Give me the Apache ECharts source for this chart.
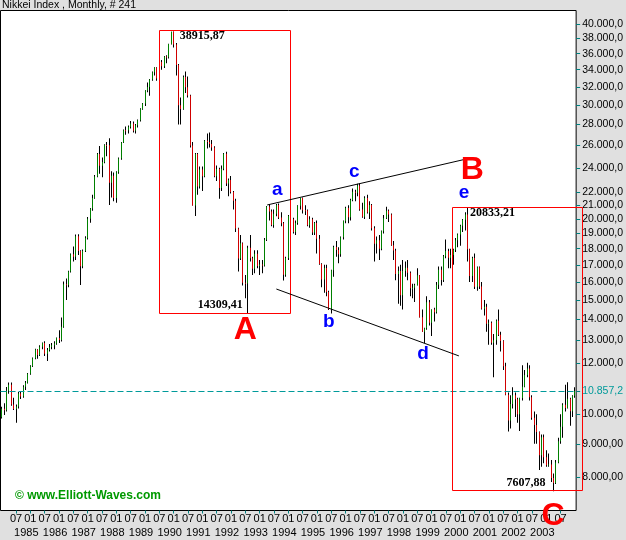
<!DOCTYPE html>
<html><head><meta charset="utf-8">
<script src="https://cdn.jsdelivr.net/npm/echarts@6/dist/echarts.min.js"></script>
<style>html,body{margin:0;padding:0;background:#e0e0e0}#c{width:626px;height:540px}</style>
</head><body><div id="c"></div>
<script>
// ---- data (monthly, Jan 1984 .. Jan 2004) ----
const startYear = 1984;
const opens = [
 9893,10196,10140,10870,11100,10350,10190,10280,10760,10650,11020,11180,
 11542,11860,12200,12580,12340,12710,12880,12400,12560,12700,12780,12850,
 13113,13020,13640,15860,15830,16600,17650,17500,18820,17850,16910,17850,
 18701,20024,20766,21566,23275,25200,24176,24488,26029,26011,22765,23330,
 21564,23622,24800,26260,27434,27417,27769,28101,27366,27924,28418,29579,
 30159,31581,31985,32838,33713,34267,32949,34954,34431,35637,35549,37269,
 38916,37189,34591,29980,29584,33131,31940,31036,25978,20984,25194,22455,
 23849,23293,26409,26292,26111,25790,23291,23900,22336,23916,25222,22687,
 22984,22023,21339,19346,17391,18348,15952,15910,18061,17399,16767,17684,
 16925,17023,16953,18591,20919,20552,19590,20380,21027,20106,19703,16408,
 17417,20229,19997,19112,19725,20974,21552,20642,20629,19564,19990,19076,
 19723,18649,17053,16140,16807,15437,14517,16678,18117,17913,17655,18744,
 19868,20813,20125,21407,22041,21956,22531,20693,20167,21556,20467,21020,
 19361,18330,18557,18003,19151,20068,20605,20331,18229,17888,16459,16636,
 15259,16628,16832,16527,15641,15671,15830,16379,14108,13406,13565,14883,
 13842,14499,14368,15837,16702,16112,17530,17862,17437,17605,17942,18558,
 18934,19540,19960,20337,17974,16332,17411,15727,16861,15747,14539,14649,
 13786,13844,12884,12999,13934,13262,12969,11861,10714,9775,10367,10697,
 10543,9998,10588,11025,11493,11764,10622,9877,9619,9383,8640,9216,
 8579,8340,8363,7973,7831,8425,9083,9563,10344,10219,10560,10101,
 10677];
const highs = [
 10270,10400,11010,11190,11190,10600,10350,10820,10840,11080,11250,11580,
 11900,12230,12620,12600,12770,12900,12960,12650,12830,12880,12960,13130,
 13480,14100,16020,16200,16650,17700,18150,18940,18950,17900,17950,18820,
 20150,20800,21800,23400,25300,25930,24900,26100,26300,26646,23700,23600,
 23700,24900,26300,27500,27800,27900,28350,28300,28050,28500,29650,30200,
 31600,32500,32900,33800,34300,34300,35000,35200,35700,35800,37300,38916,
 38950,37400,34700,30800,33300,33800,33200,31100,26300,25300,25300,24100,
 24100,26500,27100,27200,26500,25900,24200,24000,24200,25300,25400,23100,
 23300,22100,21500,19400,18900,18400,16400,18200,18900,17500,17900,17900,
 17300,17300,18700,20950,21100,20700,20700,21100,21148,20500,19800,17500,
 20300,20600,20100,19900,21000,21573,21600,21000,20700,20200,20100,19800,
 19900,18900,17100,17000,17000,15500,16700,18200,18500,18100,18800,19900,
 20900,21000,21500,22300,22200,22666,22700,21200,21700,21800,21300,21100,
 19500,18800,18900,19200,20300,20900,20700,20400,18500,18000,16900,17000,
 17300,17200,17300,16600,15900,15900,16800,16400,14500,13600,15200,15000,
 14500,14600,16000,16900,16900,17600,18600,18000,18000,18000,18700,19000,
 19600,20000,20500,20833,18000,17500,17700,16900,16900,16000,15000,14800,
 14000,13900,13300,14000,14500,13400,13000,12000,10800,10700,11000,10800,
 10600,10600,11900,11700,12000,11900,10700,10100,10000,9400,9300,9300,
 8800,8700,8500,8100,8500,9200,10000,10400,11100,11200,10600,10700,
 11000];
const lows = [
 9850,9970,10100,10750,10300,10150,9703,10200,10550,10600,10900,11150,
 11500,11820,12150,12180,12300,12600,12300,12080,12500,12600,12600,12800,
 12880,12950,13600,15000,15700,16550,17200,17300,17600,15820,16800,17800,
 18600,19750,20600,21500,23200,23500,23200,24400,25000,21036,21600,21300,
 21200,23500,24700,26200,27000,27100,27600,27200,27100,27700,28300,29500,
 29900,31400,31000,32700,33300,32700,32800,34000,34200,34800,35400,37200,
 36800,33300,28000,28000,29500,31300,30800,25800,20984,20222,21800,22300,
 22100,23200,25700,25800,25500,23200,22900,21500,22100,23800,22500,21700,
 21900,20700,19100,16600,17300,15800,15100,14309,17200,16400,16500,16800,
 16400,16500,16900,18500,19900,19500,19400,20200,20000,19500,16078,16300,
 17300,19300,19000,18900,19600,20700,20400,20300,19500,19400,18900,18900,
 17700,17000,15700,15400,15200,14485,14300,16300,17500,17100,17500,18600,
 19700,19700,19900,21300,21300,21700,20600,20100,20000,20400,20000,19200,
 17200,17700,17300,17900,19000,20000,19800,18200,17300,16100,14800,14700,
 14500,16300,16100,15200,15100,14900,15800,14100,13400,12880,13500,13700,
 13200,13900,14300,15600,15800,16000,17400,16800,16800,17000,17800,18100,
 18200,19100,19200,17200,16000,16000,15600,15500,15600,14500,14200,13400,
 12800,12800,11400,12800,13200,12500,11700,10700,9400,9500,10200,9900,
 9700,9420,10500,11000,11400,10500,9800,9000,9000,8200,8300,8400,
 8300,8300,7860,7608,7800,8400,9000,9200,10100,10200,9600,9900,
 10600];
const closes = [
 10196,10140,10870,11100,10350,10190,10280,10760,10650,11020,11180,11542,
 11860,12200,12580,12340,12710,12880,12400,12560,12700,12780,12850,13113,
 13020,13640,15860,15830,16600,17650,17500,18820,17850,16910,17850,18701,
 20024,20766,21566,23275,25200,24176,24488,26029,26011,22765,23330,21564,
 23622,24800,26260,27434,27417,27769,28101,27366,27924,28418,29579,30159,
 31581,31985,32838,33713,34267,32949,34954,34431,35637,35549,37269,38916,
 37189,34591,29980,29584,33131,31940,31036,25978,20984,25194,22455,23849,
 23293,26409,26292,26111,25790,23291,23900,22336,23916,25222,22687,22984,
 22023,21339,19346,17391,18348,15952,15910,18061,17399,16767,17684,16925,
 17023,16953,18591,20919,20552,19590,20380,21027,20106,19703,16408,17417,
 20229,19997,19112,19725,20974,21552,20642,20629,19564,19990,19076,19723,
 18649,17053,16140,16807,15437,14517,16678,18117,17913,17655,18744,19868,
 20813,20125,21407,22041,21956,22531,20693,20167,21556,20467,21020,19361,
 18330,18557,18003,19151,20068,20605,20331,18229,17888,16459,16636,15259,
 16628,16832,16527,15641,15671,15830,16379,14108,13406,13565,14883,13842,
 14499,14368,15837,16702,16112,17530,17862,17437,17605,17942,18558,18934,
 19540,19960,20337,17974,16332,17411,15727,16861,15747,14539,14649,13786,
 13844,12884,12999,13934,13262,12969,11861,10714,9775,10367,10697,10543,
 9998,10588,11025,11493,11764,10622,9877,9619,9383,8640,9216,8579,
 8340,8363,7973,7831,8425,9083,9563,10344,10219,10560,10101,10677,
 10857];
const lastValue = 10857.2;
const yTicks = [8000,9000,10000,lastValue,12000,13000,14000,15000,16000,17000,18000,19000,20000,21000,22000,24000,26000,28000,30000,32000,34000,36000,38000,40000];

// month categories
const months = [];
for (let k = 0; k < closes.length; k++) {
  const y = startYear + Math.floor(k / 12), m = (k % 12) + 1;
  months.push(y + '-' + (m < 10 ? '0' + m : '' + m));
}

// annotations (anchored to month index / price, with small pixel nudges)
const annotations = [
  {kind:'hline', i1:0, p1:lastValue, i2:240},
  {kind:'rect', i1:66, p1:38916, i2:121, p2:14309, dx1:-0.5, dy1:-2, dx2:-1, dy2:0},
  {kind:'rect', i1:188, p1:20833, i2:240, p2:7608, dx1:1, dy1:-1, dx2:7, dy2:-1},
  {kind:'line', i1:112, p1:21030, i2:196, p2:24850, dx1:-2, dx2:1},
  {kind:'line', i1:115, p1:15600, i2:191, p2:12300, dx1:0, dx2:1},
  {kind:'text', i:71, p:38916, dx:8.5, dy:4, text:'38915,87', style:'num', align:'left'},
  {kind:'text', i:103, p:14309, dx:-5, dy:-8, text:'14309,41', style:'num', align:'right'},
  {kind:'text', i:195, p:20833, dx:2.5, dy:5, text:'20833,21', style:'num', align:'left'},
  {kind:'text', i:231, p:7608, dx:-8, dy:-8, text:'7607,88', style:'num', align:'right'},
  {kind:'text', i:115, p:22200, dx:1, dy:0, text:'a', style:'wave'},
  {kind:'text', i:137, p:13900, dx:0, dy:0, text:'b', style:'wave'},
  {kind:'text', i:148, p:23640, dx:-1, dy:0, text:'c', style:'wave'},
  {kind:'text', i:176, p:12380, dx:1, dy:0, text:'d', style:'wave'},
  {kind:'text', i:194, p:21940, dx:-1, dy:0, text:'e', style:'wave'},
  {kind:'text', i:102, p:13490, dx:0, dy:0, text:'A', style:'big'},
  {kind:'text', i:197, p:23810, dx:0, dy:0, text:'B', style:'big'},
  {kind:'text', i:230, p:7065, dx:2, dy:4, text:'C', style:'big'}
];

const UP = '#008000', DOWN = '#d00000', TEAL = '#009a9a';
const textStyles = {
  num: {font:'bold 12px "Liberation Serif"', fill:'#000'},
  wave: {font:'bold 19px "Liberation Sans"', fill:'#0000ff'},
  big: {font:'bold 32px "Liberation Sans"', fill:'#ff0000'}
};

function fmtNum(v) {
  const dec = v >= 10000 ? 1 : 2;
  const s = Number(v).toFixed(dec).split('.');
  return s[0].replace(/\B(?=(\d{3})+(?!\d))/g, '.') + ',' + s[1];
}

const barRows = months.map((m, k) => [k, opens[k], highs[k], lows[k], closes[k]]);

function renderBar(params, api) {
  const i = api.value(0);
  const o = api.value(1), h = api.value(2), l = api.value(3), c = api.value(4);
  const pH = api.coord([i, h]), pL = api.coord([i, l]);
  const pO = api.coord([i, o]), pC = api.coord([i, c]);
  const x = Math.floor(pH[0]);
  const top = Math.min(pO[1], pC[1]), bot = Math.max(pO[1], pC[1]);
  const col = c > o ? UP : (c < o ? DOWN : '#000');
  return {type:'group', children:[
    {type:'rect', shape:{x:x, y:pH[1], width:1, height:Math.max(1, pL[1]-pH[1])}, style:{fill:'#000'}},
    {type:'rect', shape:{x:x, y:top, width:1, height:Math.max(1, bot-top)}, style:{fill:col}}
  ]};
}

function renderAnnot(params, api) {
  const a = annotations[params.dataIndex];
  if (a.kind === 'hline') {
    const p1 = api.coord([a.i1, a.p1]), p2 = api.coord([a.i2, a.p1]);
    const half = api.size([1, 0])[0] / 2;
    const y = Math.round(p1[1]) + 0.5;
    return {type:'line', shape:{x1:p1[0]-half, y1:y, x2:p2[0]+half, y2:y},
      style:{stroke:TEAL, lineWidth:1, lineDash:[6,3]}};
  }
  if (a.kind === 'rect') {
    const p1 = api.coord([a.i1, a.p1]), p2 = api.coord([a.i2, a.p2]);
    const x1 = Math.round(p1[0] + a.dx1) + 0.5, y1 = Math.round(p1[1] + a.dy1) + 0.5;
    const x2 = Math.round(p2[0] + a.dx2) + 0.5, y2 = Math.round(p2[1] + a.dy2) + 0.5;
    return {type:'rect', shape:{x:x1, y:y1, width:x2-x1, height:y2-y1},
      style:{fill:null, stroke:'#ff0000', lineWidth:1}};
  }
  if (a.kind === 'line') {
    const p1 = api.coord([a.i1, a.p1]), p2 = api.coord([a.i2, a.p2]);
    return {type:'line', shape:{x1:p1[0]+a.dx1, y1:p1[1], x2:p2[0]+a.dx2, y2:p2[1]},
      style:{stroke:'#000', lineWidth:1}};
  }
  const p = api.coord([a.i, a.p]);
  const st = textStyles[a.style];
  return {type:'text', x:p[0]+a.dx, y:p[1]+a.dy,
    style:{text:a.text, font:st.font, fill:st.fill, align:a.align || 'center', verticalAlign:'middle',
      textAlign:a.align || 'center', textVerticalAlign:'middle'}};
}

const monthInterval = (index) => index % 6 === 0 && index > 0 && index < 240;
const yearInterval = (index) => index % 12 === 0 && index > 0 && index < 240;

const chart = echarts.init(document.getElementById('c'), null, {renderer:'canvas'});
chart.setOption({
  animation: false,
  backgroundColor: '#e0e0e0',
  grid: {left:0.5, right:48.5, top:10.5, bottom:29.5, show:true, backgroundColor:'#fff', borderColor:'#000', borderWidth:1, containLabel:false},
  xAxis: [{
    type:'category', data: months, boundaryGap:true,
    axisLine:{show:false},
    axisTick:{show:true, interval:monthInterval, alignWithLabel:true, length:3, lineStyle:{color:'#008080'}},
    axisLabel:{
      interval:monthInterval, margin:3, color:'#000', fontFamily:'Liberation Sans', fontSize:11,
      formatter: (v) => v.slice(5)
    },
    splitLine:{show:false}
  }, {
    type:'category', data: months, boundaryGap:true, position:'bottom',
    axisLine:{show:false}, axisTick:{show:false},
    axisLabel:{
      interval:yearInterval, margin:17, color:'#000', fontFamily:'Liberation Sans', fontSize:11,
      formatter: (v) => '{y|' + v.slice(0,4) + '}',
      rich:{y:{fontFamily:'Liberation Sans', fontSize:11, color:'#000', padding:[0,8,0,0]}}
    },
    splitLine:{show:false}
  }],
  yAxis: {
    type:'log', logBase:10, position:'right', min:7102, max:41966,
    axisLine:{show:false},
    axisTick:{show:true, length:4, lineStyle:{color:'#008080'}, customValues: yTicks},
    axisLabel:{
      customValues: yTicks, margin:6, color:'#000', fontFamily:'Liberation Sans', fontSize:10.5,
      formatter: (v) => Math.abs(v - lastValue) < 1 ? '{hl|' + fmtNum(lastValue) + '}' : fmtNum(v),
      rich:{hl:{color:TEAL, fontFamily:'Liberation Sans', fontSize:10.5}}
    },
    splitLine:{show:false}
  },
  graphic: [
    {type:'text', left:2, top:0, z:100, style:{text:'Nikkei Index , Monthly, # 241', font:'10.5px "Liberation Sans"', fill:'#000'}},
    {type:'text', left:15, top:490, z:100, style:{text:'\u00a9 www.Elliott-Waves.com', font:'bold 12px "Liberation Sans"', fill:'#009900'}}
  ],
  series: [
    {
      type:'custom', name:'bars', data: barRows, encode:{x:0, y:[1,2,3,4]},
      renderItem: renderBar, z:2
    },
    {
      type:'custom', name:'annotations', clip:false, z:5, silent:true,
      data: annotations.map(a => [a.kind === 'text' ? a.i : a.i1, a.kind === 'text' ? a.p : a.p1]),
      encode:{x:0, y:1},
      renderItem: renderAnnot
    }
  ]
});
</script>
</body></html>
